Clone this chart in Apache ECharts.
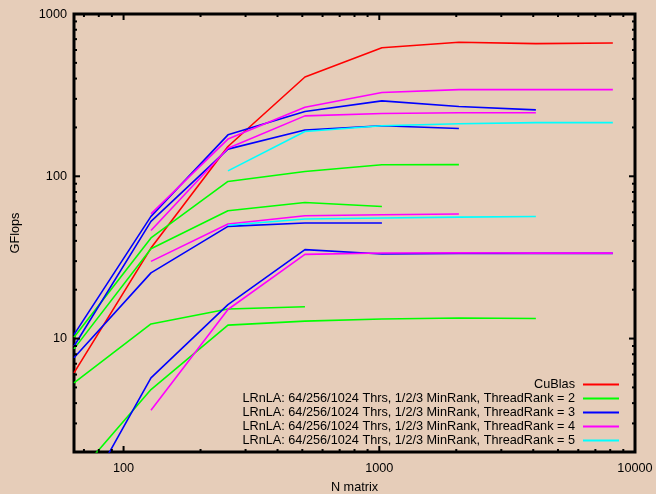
<!DOCTYPE html>
<html>
<head>
<meta charset="utf-8">
<script src="https://cdn.jsdelivr.net/npm/echarts@6/dist/echarts.min.js"></script>
<style>
html,body{margin:0;padding:0;background:#e6cdb9;}
#c{width:656px;height:494px;}
</style>
</head>
<body>
<div id="c"></div>
<script>
// ---- data ----
const N = [64, 128, 256, 512, 1024, 2048, 4096, 8192];

const cublas = [6.15, 36.1, 152.6, 409, 620, 670, 657, 663];

const tr2_a = [10.2, 41.7, 92.9, 107, 117.8, 118, null, null];
const tr2_b = [8.64, 35.8, 61.3, 69, 65.2, null, null, null];
const tr2_c = [5.34, 12.3, 15.2, 15.7, null, null, null, null];
const tr2_d = [1.37, 4.85, 12.1, 12.8, 13.2, 13.4, 13.3, null];

const tr3_a = [10.58, 56.6, 180, 250.7, 291.4, 268.9, 256.5, null];
const tr3_b = [8.97, 52.7, 147, 193, 205, 196.8, null, null];
const tr3_c = [7.61, 25.4, 49.1, 51.5, 51.5, null, null, null];
const tr3_d = [0.81, 5.73, 16.2, 35.3, 33.2, 33.5, 33.5, 33.5];

const tr4_a = [null, 58.7, 169.5, 266.5, 328, 342, 342, 342];
const tr4_b = [null, 46.3, 149, 235.6, 243.5, 246.5, 246.5, null];
const tr4_c = [null, 29.9, 50.8, 57.1, 57.9, 58.5, null, null];
const tr4_d = [null, 3.62, 15.1, 33, 33.7, 33.8, 33.6, 33.6];

const tr5_a = [null, null, 108, 188.7, 204.8, 210.6, 214, 214];
const tr5_b = [null, null, 49.9, 54.5, 55.3, 56, 56.5, null];

const names = [
  "CuBlas",
  "LRnLA: 64/256/1024 Thrs, 1/2/3 MinRank, ThreadRank = 2",
  "LRnLA: 64/256/1024 Thrs, 1/2/3 MinRank, ThreadRank = 3",
  "LRnLA: 64/256/1024 Thrs, 1/2/3 MinRank, ThreadRank = 4",
  "LRnLA: 64/256/1024 Thrs, 1/2/3 MinRank, ThreadRank = 5"
];
const colors = ["#ff0000", "#00ff00", "#0000ff", "#ff00ff", "#00ffff"];

const xMajorTicks = [100, 1000, 10000];
const xMinorTicks = [70, 80, 90, 200, 300, 400, 500, 600, 700, 800, 900,
  2000, 3000, 4000, 5000, 6000, 7000, 8000, 9000];
const yMajorTicks = [10, 100, 1000];
const yMinorTicks = [2, 3, 4, 5, 6, 7, 8, 9, 20, 30, 40, 50, 60, 70, 80, 90,
  200, 300, 400, 500, 600, 700, 800, 900];

// ---- build ----
const groups = [
  [cublas],
  [tr2_a, tr2_b, tr2_c, tr2_d],
  [tr3_a, tr3_b, tr3_c, tr3_d],
  [tr4_a, tr4_b, tr4_c, tr4_d],
  [tr5_a, tr5_b]
];

function pairs(vals) {
  const out = [];
  vals.forEach((v, i) => { if (v != null) out.push([N[i], v]); });
  return out;
}

const series = [];
groups.forEach((g, gi) => {
  g.forEach(vals => {
    series.push({
      name: names[gi],
      type: 'line',
      data: pairs(vals),
      symbol: 'none',
      clip: true,
      color: colors[gi],
      lineStyle: { color: colors[gi], width: 1.6 },
      emphasis: { disabled: true },
      z: 2 + gi
    });
  });
});

const FONT = '"Liberation Sans", Arial, sans-serif';
const FS = 12.7;

series.push({
  type: 'custom',
  silent: true,
  z: 10,
  data: [[100, 100]],
  renderItem: function (params, api) {
    const cs = params.coordSys;
    const L = cs.x, T = cs.y, R = cs.x + cs.width, B = cs.y + cs.height;
    const kids = [];
    const st = { stroke: '#000', lineWidth: 2 };
    function xt(v, len) {
      const px = api.coord([v, 100])[0];
      kids.push({ type: 'line', shape: { x1: px, y1: B, x2: px, y2: B - len }, style: st });
      kids.push({ type: 'line', shape: { x1: px, y1: T, x2: px, y2: T + len }, style: st });
    }
    function yt(v, len) {
      const py = api.coord([100, v])[1];
      kids.push({ type: 'line', shape: { x1: L, y1: py, x2: L + len, y2: py }, style: st });
      kids.push({ type: 'line', shape: { x1: R, y1: py, x2: R - len, y2: py }, style: st });
    }
    xMajorTicks.forEach(v => xt(v, 6));
    xMinorTicks.forEach(v => xt(v, 3));
    yMajorTicks.forEach(v => yt(v, 6));
    yMinorTicks.forEach(v => yt(v, 3));
    return { type: 'group', children: kids };
  }
});

const chart = echarts.init(document.getElementById('c'), null, { renderer: 'canvas' });
chart.setOption({
  backgroundColor: '#e6cdb9',
  animation: false,
  textStyle: { fontFamily: FONT },
  grid: {
    left: 74, right: 21, top: 14, bottom: 42,
    containLabel: false,
    outerBoundsMode: 'none',
    show: true, borderColor: '#000', borderWidth: 3,
    backgroundColor: 'transparent'
  },
  legend: {
    data: names,
    orient: 'vertical',
    align: 'right',
    right: 37,
    top: 377.5,
    padding: 0,
    itemGap: 0,
    itemWidth: 36,
    itemHeight: 10,
    icon: 'path://M0,4 L36,4 L36,6 L0,6 Z',
    textStyle: { fontFamily: FONT, fontSize: FS, color: '#000', lineHeight: 14, padding: [0, 3, 0, 0] },
    selectedMode: false
  },
  xAxis: {
    type: 'log',
    logBase: 10,
    min: 64,
    max: 10000,
    name: 'N matrix',
    nameLocation: 'middle',
    nameGap: 29,
    nameTextStyle: { fontFamily: FONT, fontSize: FS, color: '#000' },
    axisLine: { show: false },
    axisTick: { show: false },
    splitLine: { show: false },
    minorTick: { show: false },
    axisLabel: {
      showMinLabel: false,
      margin: 10,
      fontFamily: FONT, fontSize: FS, color: '#000',
      formatter: v => String(Math.round(v))
    }
  },
  yAxis: {
    type: 'log',
    logBase: 10,
    min: 2,
    max: 1000,
    name: 'GFlops',
    nameLocation: 'middle',
    nameGap: 52,
    nameRotate: 90,
    nameTextStyle: { fontFamily: FONT, fontSize: FS, color: '#000' },
    axisLine: { show: false },
    axisTick: { show: false },
    splitLine: { show: false },
    minorTick: { show: false },
    axisLabel: {
      showMinLabel: false,
      margin: 7,
      fontFamily: FONT, fontSize: FS, color: '#000',
      formatter: v => String(Math.round(v))
    }
  },
  series: series
});
</script>
</body>
</html>
